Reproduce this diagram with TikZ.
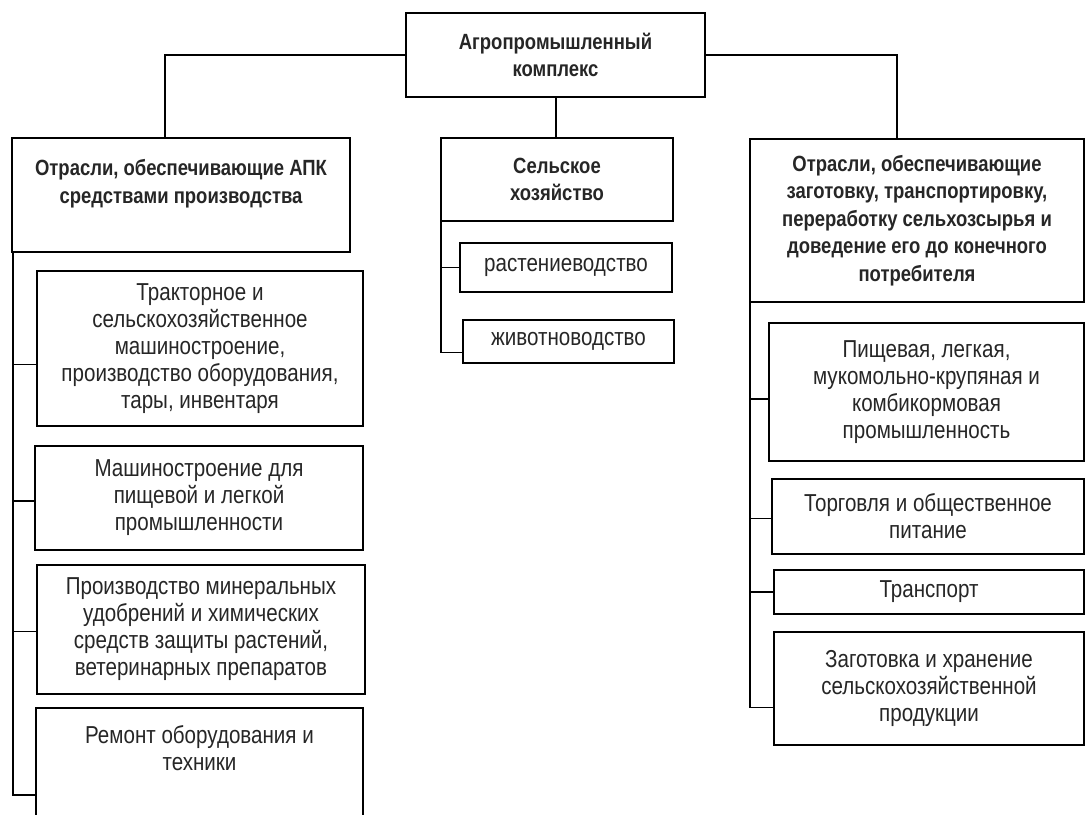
\documentclass[tikz,border=0pt]{standalone}
\usepackage{fontspec}
\setmainfont[FakeStretch=0.84]{Liberation Sans}
\begin{document}
\begin{tikzpicture}[x=1pt,y=-1pt,
  box/.style={draw=black, line width=1.6pt, align=center, inner sep=0pt, outer sep=0pt,
    anchor=north west, text=black!85, font=\fontsize{24.5}{27}\selectfont},
  hbox/.style={box, font=\fontsize{22}{27.5}\selectfont\bfseries},
  conn/.style={draw=black, line width=1.6pt}]
\useasboundingbox (0,0) rectangle (1086,814);
% top
\node[hbox, minimum width=299pt, minimum height=84pt] (top) at (406,13) {Агропромышленный\\комплекс};
% level 1
\node[hbox, minimum width=338pt, minimum height=114pt] (lb) at (12,138) {Отрасли, обеспечивающие АПК\\средствами производства\\\mbox{}};
\node[hbox, minimum width=232pt, minimum height=83pt] (cb) at (441,138) {Сельское\\хозяйство};
\node[hbox, minimum width=334pt, minimum height=163pt] (rb) at (750,139) {Отрасли, обеспечивающие\\заготовку, транспортировку,\\переработку сельхозсырья и\\доведение его до конечного\\потребителя};
% center children
\node[box, minimum width=212pt, minimum height=49pt] (c1) at (460,243) {растениеводство};
\node[box, minimum width=211pt, minimum height=43pt] (c2) at (463,320) {животноводство};
% left children
\node[box, minimum width=326pt, minimum height=155pt] (l1) at (37,271) {Тракторное и\\сельскохозяйственное\\машиностроение,\\производство оборудования,\\тары, инвентаря};
\node[box, minimum width=328pt, minimum height=104pt] (l2) at (35,446) {Машиностроение для\\пищевой и легкой\\промышленности};
\node[box, minimum width=328pt, minimum height=129pt] (l3) at (37,565) {Производство минеральных\\удобрений и химических\\средств защиты растений,\\ветеринарных препаратов};
\node[box, minimum width=327pt, minimum height=108pt] (l4) at (36,708) {Ремонт оборудования и\\техники\\\mbox{}};
% right children
\node[box, minimum width=315pt, minimum height=138pt] (r1) at (769,323) {Пищевая, легкая,\\мукомольно-крупяная и\\комбикормовая\\промышленность};
\node[box, minimum width=312pt, minimum height=75pt] (r2) at (772,479) {Торговля и общественное\\питание};
\node[box, minimum width=310pt, minimum height=44pt] (r3) at (774,570) {Транспорт};
\node[box, minimum width=310pt, minimum height=113pt] (r4) at (774,632) {Заготовка и хранение\\сельскохозяйственной\\продукции};
% top connectors
\draw[conn] (top.west) -| ([xshift=153pt]lb.north west);
\draw[conn] (top.east) -| ([xshift=147pt]rb.north west);
\draw[conn] ([xshift=150pt]top.south west) -- ([xshift=115pt]cb.north west);
% left trunk
\draw[conn] ([xshift=1pt]lb.south west) |- ([yshift=-33pt]l4.west);
\draw[conn] ([xshift=1pt,yshift=-16pt]lb.south west |- l1.west) -- ([yshift=-16pt]l1.west);
\draw[conn] ([xshift=1pt,yshift=-3pt]lb.south west |- l2.west) -- ([yshift=-3pt]l2.west);
\draw[conn] ([xshift=1pt,yshift=-2pt]lb.south west |- l3.west) -- ([yshift=-2pt]l3.west);
% center trunk
\draw[conn] (cb.south west) |- ([yshift=-11pt]c2.west);
\draw[conn] (cb.south west |- c1.west) -- (c1.west);
% right trunk
\draw[conn] (rb.south west) |- ([yshift=-19pt]r4.west);
\draw[conn] ([yshift=-7pt]rb.south west |- r1.west) -- ([yshift=-7pt]r1.west);
\draw[conn] ([yshift=-2pt]rb.south west |- r2.west) -- ([yshift=-2pt]r2.west);
\draw[conn] (rb.south west |- r3.west) -- (r3.west);
\end{tikzpicture}
\end{document}
